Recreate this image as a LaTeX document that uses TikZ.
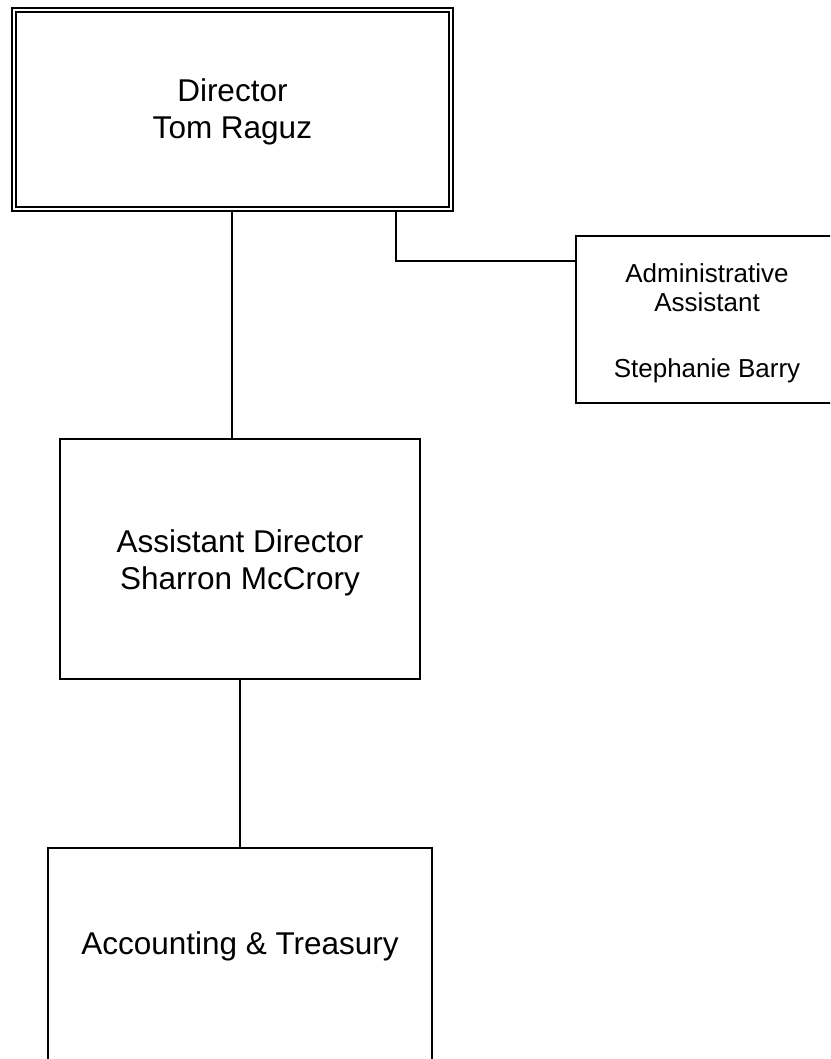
\documentclass[tikz,border=0pt]{standalone}
\usepackage{fontspec}
\setmainfont{Liberation Sans}
\usepackage{tikz}
\usetikzlibrary{positioning}

\begin{document}
\begin{tikzpicture}[x=1pt, y=-1pt, line width=2pt,
  every node/.style={align=center, inner sep=0pt, font=\fontsize{31.5pt}{37pt}\selectfont},
  unit/.style={draw, rectangle},
  head/.style={unit, double, double distance=2.4pt, line width=1.8pt},
  small/.style={font=\fontsize{26pt}{29.3pt}\selectfont}]
  \useasboundingbox (0,0) rectangle (830,1059);
  \clip (0,0) rectangle (830,1059);
  \node[head, minimum width=437pt, minimum height=199pt] (dir) at (232.4,109.5) {\rule{0pt}{28pt}Director\\Tom Raguz};
  \node[unit, small, minimum width=262pt, minimum height=167pt] (admin) at (707,319.5) {\rule{0pt}{26pt}Administrative\\Assistant\\[37pt]Stephanie Barry};
  \node[unit, minimum width=360pt, minimum height=240pt] (asst) at (240,559) {\rule{0pt}{31pt}Assistant Director\\Sharron McCrory};
  \node[unit, minimum width=383.4pt, minimum height=300pt] (acct) at (240,998) {};
  \node (acctlbl) at (240,946) {Accounting \& Treasury};
  \coordinate (tap) at (396,261);
  \draw (dir.south) -- (dir.south |- asst.north);
  \draw (tap |- dir.south) -- (tap) -- (tap -| admin.west);
  \draw (asst.south) -- (acct.north);
\end{tikzpicture}
\end{document}
